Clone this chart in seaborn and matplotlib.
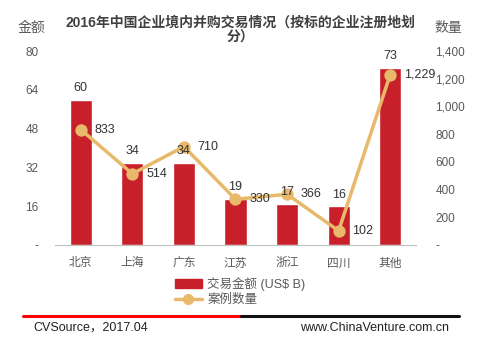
import matplotlib
matplotlib.use("Agg")
import matplotlib.pyplot as plt
import seaborn as sns
import pandas as pd
from matplotlib.lines import Line2D
from matplotlib.patches import Patch

regions = ["北京", "上海", "广东", "江苏", "浙江", "四川", "其他"]
amounts = [60, 34, 34, 19, 17, 16, 73]
counts = [833, 514, 710, 330, 366, 102, 1229]
left_ticks = [0, 16, 32, 48, 64, 80]
right_ticks = [0, 200, 400, 600, 800, 1000, 1200, 1400]

sns.set_theme(style="white")
plt.rcParams['font.family'] = ['Liberation Sans', 'Noto Sans CJK SC', 'DejaVu Sans']

bar_color = "#C8202A"
line_color = "#E8B96A"
gray = "#595959"

df = pd.DataFrame({"region": regions, "amount": amounts, "count": counts})

fig = plt.figure(figsize=(4.8, 3.45), dpi=100)
ax = fig.add_axes([0.1146, 0.29, 0.752, 0.562])
sns.barplot(data=df, x="region", y="amount", color=bar_color, width=0.43,
            saturation=1, ax=ax)
ax.set_ylim(0, 80)
ax.set_xlim(-0.5, 6.5)
ax.set_yticks(left_ticks)
ax.set_yticklabels(["-" if v == 0 else str(v) for v in left_ticks])
ax.set_xlabel("")
ax.set_ylabel("")
for s in ["top", "right", "left"]:
    ax.spines[s].set_visible(False)
ax.spines["bottom"].set_color("#BFBFBF")
ax.spines["bottom"].set_linewidth(0.8)
ax.tick_params(axis="y", length=0, pad=12, labelsize=8.5, labelcolor=gray)
ax.tick_params(axis="x", length=0, pad=9, labelsize=8.5, labelcolor=gray)
ax.set_xticks(range(len(regions)))
ax.set_xticks([i - 0.5 for i in range(len(regions) + 1)], minor=True)
ax.tick_params(axis="x", which="minor", length=4, color="#BFBFBF", width=0.8, direction="out")

ax2 = ax.twinx()
sns.pointplot(data=df, x="region", y="count", color=line_color, markers="o",
              markersize=7, linewidth=2.5, ax=ax2)
ax2.set_ylim(0, 1400)
ax2.set_xlim(-0.5, 6.5)
ax2.set_yticks(right_ticks)
ax2.set_yticklabels(["-" if v == 0 else f"{v:,}" for v in right_ticks])
ax2.set_ylabel("")
ax2.set_xlabel("")
for s in ["top", "right", "left", "bottom"]:
    ax2.spines[s].set_visible(False)
ax2.tick_params(axis="y", length=0, pad=14, labelsize=8.5, labelcolor=gray)

for i, v in enumerate(amounts):
    ax2.annotate(str(v), (i, v), xycoords=ax.transData, xytext=(0, 4),
                 textcoords="offset points", ha="center", va="bottom",
                 fontsize=9, color="#333333", zorder=10)

for i, v in enumerate(counts):
    ax2.annotate(f"{v:,}", (i, v), xytext=(10, 0), textcoords="offset points",
                 ha="left", va="center", fontsize=9, color="#333333", zorder=10)

fig.text(0.5, 0.935, "2016年中国企业境内并购交易情况（按标的企业注册地划",
         ha="center", va="center", fontsize=10, fontweight="bold", color="#404040")
fig.text(0.5, 0.89, "分）", ha="center", va="center", fontsize=10,
         fontweight="bold", color="#404040")
fig.text(0.065, 0.92, "金额", ha="center", va="center", fontsize=10, color=gray)
fig.text(0.935, 0.92, "数量", ha="center", va="center", fontsize=10, color=gray)

handles = [Patch(facecolor=bar_color, edgecolor=bar_color),
           Line2D([0], [0], color=line_color, lw=2.5, marker="o", markersize=7)]
fig.legend(handles, ["交易金额 (US$ B)", "案例数量"], loc="center",
           bbox_to_anchor=(0.5, 0.155), frameon=False, fontsize=9,
           handlelength=2.2, handletextpad=0.4, labelspacing=0.25,
           labelcolor=gray)

fig.add_artist(Line2D([23/480, 241/480], [1-316/345]*2, color="#FF0000", lw=2.2))
fig.add_artist(Line2D([241/480, 459/480], [1-316/345]*2, color="#111111", lw=2.2))
fig.text(33/480, 1-328/345, "CVSource，2017.04", ha="left", va="center",
         fontsize=9, color="#222222")
fig.text(449/480, 1-328/345, "www.ChinaVenture.com.cn", ha="right", va="center",
         fontsize=9, color="#222222")

fig.savefig("out.png", dpi=100)
